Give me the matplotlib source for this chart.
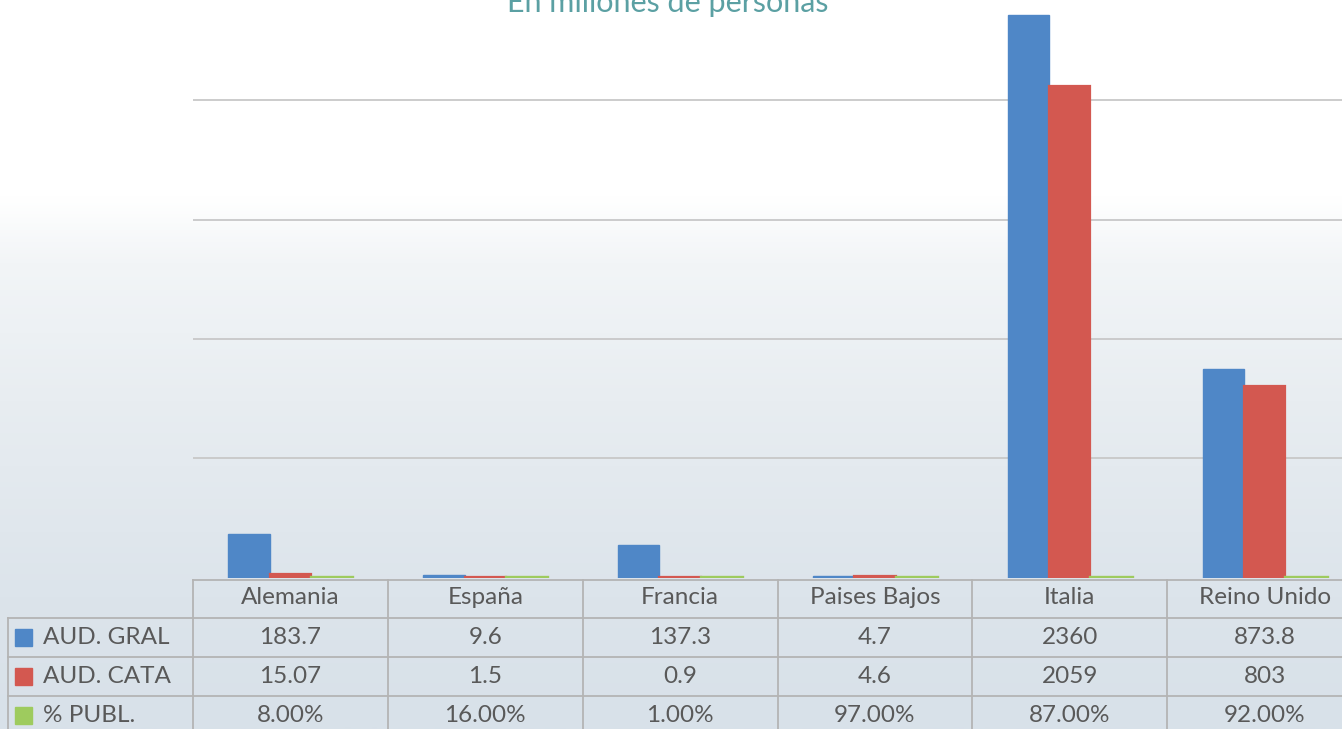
import numpy as np
import matplotlib
matplotlib.use("Agg")
import matplotlib.pyplot as plt
import matplotlib.transforms as mtransforms
from matplotlib.colors import LinearSegmentedColormap

categories = ['Alemania', 'España', 'Francia', 'Paises Bajos', 'Italia', 'Reino Unido']
aud_gral = [183.7, 9.6, 137.3, 4.7, 2360, 873.8]
aud_cata = [15.07, 1.5, 0.9, 4.6, 2059, 803]
pct_publ = [0.08, 0.16, 0.01, 0.97, 0.87, 0.92]
series_names = ['AUD. GRAL', 'AUD. CATA', '% PUBL.']
title = 'En millones de personas'

colors = ['#4F87C7', '#D35850', '#9ECB5E']
text_color = '#595959'
grid_color = '#C8C8C8'
table_line = '#B4B4B4'

W, H = 1342, 729
fig = plt.figure(figsize=(W / 100, H / 100), dpi=100)
plt.rcParams['font.family'] = ['Lato', 'DejaVu Sans']

def fx(x):
    return x / W

def fy(y):
    return 1 - y / H

# background gradient
bg = fig.add_axes([0, 0, 1, 1], zorder=-10)
grad = np.linspace(0, 1, 500).reshape(-1, 1)
cmap = LinearSegmentedColormap.from_list('bg', [
    (0.0, '#FFFFFF'), (0.27, '#FFFFFF'), (0.36, '#F2F5F7'),
    (0.55, '#E8EDF1'), (0.82, '#DCE4EB'), (1.0, '#D8E1E9')])
bg.imshow(grad, aspect='auto', cmap=cmap, extent=[0, 1, 0, 1], origin='upper')
bg.set_axis_off()

# main plot area
left, base, right = 193, 577.5, 1362
ymax = 2500
px_per_unit = 0.2385
top = base - ymax * px_per_unit
ax = fig.add_axes([fx(left), fy(base), (right - left) / W, (base - top) / H])
ax.patch.set_alpha(0)
x = np.arange(len(categories))
bw = 0.212
edge_w = [1.0, 1.6, 2.4]
for i, (vals, c) in enumerate(zip([aud_gral, aud_cata, pct_publ], colors)):
    ax.bar(x + (i - 1) * bw, vals, bw, color=c, edgecolor=c, linewidth=edge_w[i], zorder=3)
ax.set_xlim(-0.5, len(categories) - 0.5)
ax.set_ylim(0, ymax)
ax.set_yticks([500, 1000, 1500, 2000])
ax.yaxis.grid(True, color=grid_color, linewidth=1.3, zorder=0)
ax.tick_params(left=False, labelleft=False, bottom=False, labelbottom=False)
for s in ax.spines.values():
    s.set_visible(False)

# title (partially cut off at top, as in the original)
fig.text(fx(668), fy(12), title, ha='center', va='baseline', color='#5BA0A3', fontsize=22)

# data table
tr = mtransforms.blended_transform_factory(ax.transData, fig.transFigure)
n = len(categories)
tline = 579.5
fig.add_artist(plt.Line2D([fx(left), 1], [fy(tline), fy(tline)], color=table_line, lw=1.3))
for yy in [618, 657, 696]:
    fig.add_artist(plt.Line2D([fx(8), 1], [fy(yy), fy(yy)], color=table_line, lw=1.3))
fig.add_artist(plt.Line2D([fx(8), fx(8)], [fy(618), 0], color=table_line, lw=1.3))
for i in range(n + 1):
    ax.add_line(plt.Line2D([i - 0.5, i - 0.5], [fy(tline), 0], transform=tr, color=table_line, lw=1.3, clip_on=False))

fs = 17.5
for i, cat in enumerate(categories):
    ax.text(i, fy(598), cat, transform=tr, ha='center', va='center', color=text_color, fontsize=fs)
rows = [
    [f'{v:g}' for v in aud_gral],
    [f'{v:g}' for v in aud_cata],
    [f'{v * 100:.2f}%' for v in pct_publ],
]
centers = [637.5, 676.5, 715.5]
for r, (labels, yc) in enumerate(zip(rows, centers)):
    for i, lab in enumerate(labels):
        ax.text(i, fy(yc), lab, transform=tr, ha='center', va='center', color=text_color, fontsize=fs)
    fig.add_artist(plt.Rectangle((fx(15), fy(yc + 8.5)), 17 / W, 17 / H, color=colors[r], transform=fig.transFigure))
    fig.text(fx(43), fy(yc), series_names[r], ha='left', va='center', color=text_color, fontsize=fs)

fig.savefig('out.png', dpi=100)
